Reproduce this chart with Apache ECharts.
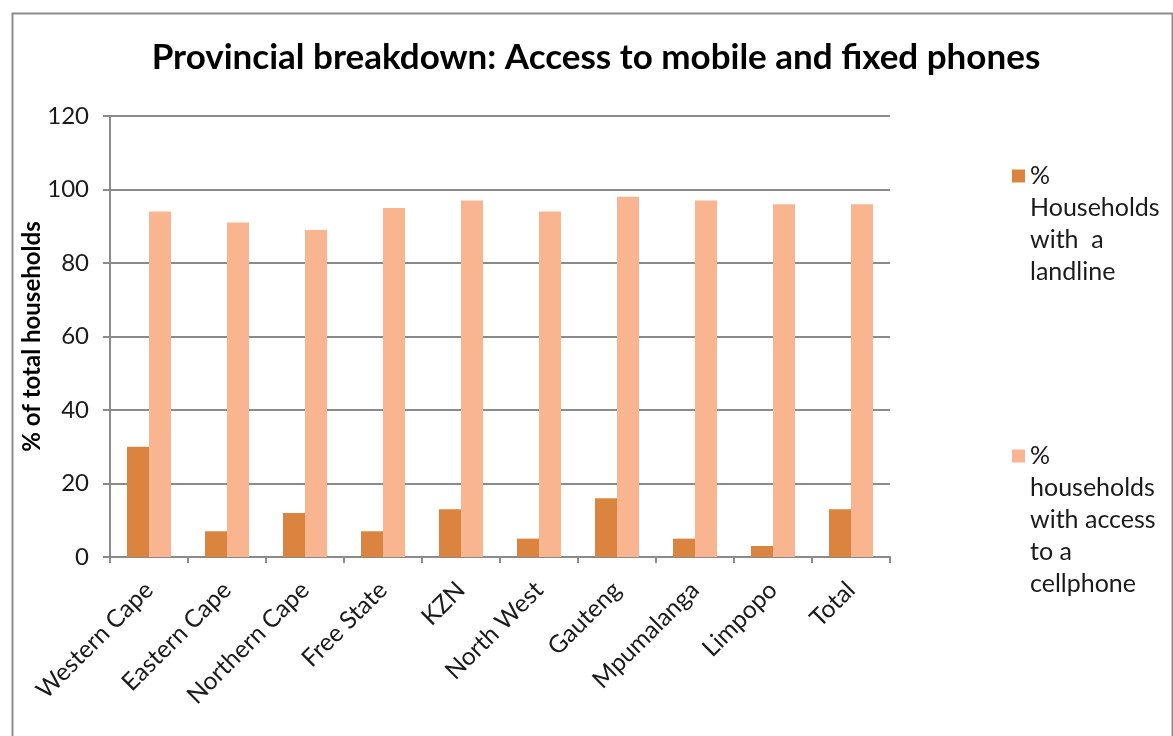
<!DOCTYPE html>
<html>
<head>
<meta charset="utf-8">
<script src="https://cdn.jsdelivr.net/npm/echarts@6/dist/echarts.min.js"></script>
<style>
html,body{margin:0;padding:0;background:#fff;}
#chart{width:1173px;height:736px;}
</style>
</head>
<body>
<div id="chart"></div>
<script>
var titleText = 'Provincial breakdown: Access to mobile and fixed phones';
var categories = ['Western Cape','Eastern Cape','Northern Cape','Free State','KZN','North West','Gauteng','Mpumalanga','Limpopo','Total'];
var landline = [30, 7, 12, 7, 13, 5, 16, 5, 3, 13];
var cellphone = [94, 91, 89, 95, 97, 94, 98, 97, 96, 96];
var seriesNames = ['% Households with  a landline', '% households with access to a cellphone'];
var legendLines = [['%','Households','with  a','landline'], ['%','households','with access','to a','cellphone']];
var yAxisName = '% of total households';
var yTicks = {min: 0, max: 120, interval: 20};

var FONT = 'Lato';
var LH = 32;
var chart = echarts.init(document.getElementById('chart'));
// Legend text is centred on its icon; blank lines before the text put the
// icon beside the first line, as in the reference.
function legendFor(i, iconCenter) {
  var n = legendLines[i].length;
  var blanks = [];
  for (var k = 0; k < n - 1; k++) blanks.push(' ');
  var total = 2 * n - 1;
  return {
    data: [seriesNames[i]],
    orient: 'vertical',
    left: 1012,
    top: iconCenter - total * LH / 2,
    padding: 0,
    itemWidth: 13,
    itemHeight: 13,
    icon: 'rect',
    formatter: function () { return blanks.concat(legendLines[i]).join('\n'); },
    textStyle: {fontFamily: FONT, fontSize: 25, color: '#1a1a1a', lineHeight: LH}
  };
}
chart.setOption({
  animation: false,
  textStyle: {fontFamily: FONT},
  title: {
    text: titleText,
    left: 591, top: 35, textAlign: 'center',
    textStyle: {fontFamily: FONT, fontWeight: 'bold', fontSize: 35, color: '#000'}
  },
  graphic: [{
    type: 'rect', left: 10, top: 11, silent: true,
    shape: {width: 1160, height: 800},
    style: {fill: 'none', stroke: '#8c8c8c', lineWidth: 2}
  }],
  legend: [legendFor(0, 176), legendFor(1, 456)],
  grid: {left: 110, right: 283, top: 116, bottom: 179, containLabel: false},
  xAxis: {
    type: 'category',
    data: categories,
    axisLine: {lineStyle: {color: '#8a8a8a', width: 2}},
    axisTick: {show: true, length: 6, alignWithLabel: false, lineStyle: {color: '#8a8a8a', width: 2}},
    axisLabel: {rotate: 45, fontFamily: FONT, fontSize: 24.5, color: '#1a1a1a', margin: 29, interval: 0}
  },
  yAxis: {
    type: 'value',
    min: yTicks.min, max: yTicks.max, interval: yTicks.interval,
    name: yAxisName,
    nameLocation: 'middle',
    nameRotate: 90,
    nameGap: 66,
    nameMoveOverlap: false,
    nameTextStyle: {fontFamily: FONT, fontWeight: 'bold', fontSize: 24, color: '#000'},
    axisLine: {show: true, lineStyle: {color: '#8a8a8a', width: 2}},
    axisTick: {show: true, length: 7, lineStyle: {color: '#8a8a8a', width: 2}},
    axisLabel: {fontFamily: FONT, fontSize: 24, color: '#1a1a1a', margin: 21},
    splitLine: {lineStyle: {color: '#8a8a8a', width: 2}}
  },
  series: [
    {name: seriesNames[0], type: 'bar', data: landline, barWidth: 22, barGap: '0%', itemStyle: {color: '#DA843F'}},
    {name: seriesNames[1], type: 'bar', data: cellphone, barWidth: 22, barGap: '0%', itemStyle: {color: '#F9B590'}}
  ]
});
</script>
</body>
</html>
